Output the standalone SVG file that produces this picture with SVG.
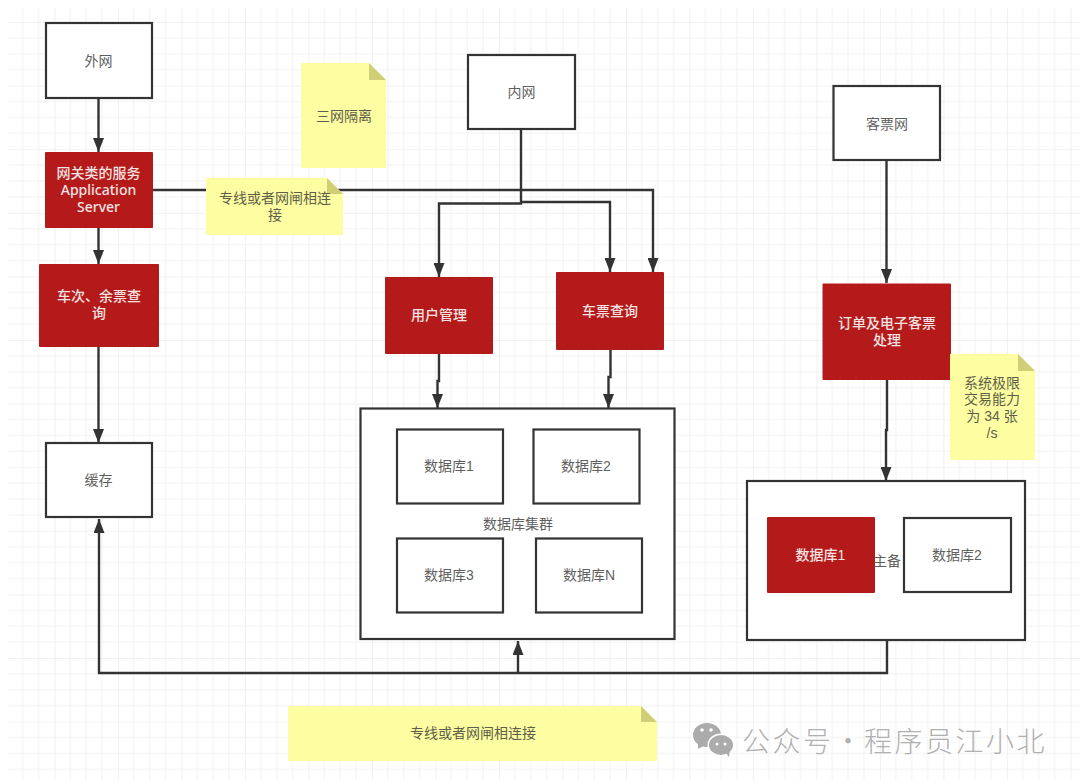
<svg xmlns="http://www.w3.org/2000/svg" width="1080" height="784" viewBox="0 0 1080 784">
<style>
text{font-family:"Liberation Sans","Noto Sans CJK SC",sans-serif;font-size:14px;text-anchor:middle;dominant-baseline:central;fill:#5f5f5f}
.box{fill:#fff;stroke:#333;stroke-width:2.2}
.red{fill:#b51a1a;stroke:none}
.red-t{fill:#f3e3e3;font-weight:500}
.latin{font-family:"Noto Sans","Liberation Sans",sans-serif;font-size:14px}
.note{fill:#fdfda2}
.fold{fill:#cfcf78}
.note-t{fill:#5f5f48}
.wire{fill:none;stroke:#333;stroke-width:2.4;marker-end:url(#arrow)}
.wm{fill:#b0b0b0;font-size:28px;font-family:"Noto Sans CJK SC",sans-serif;font-weight:300;text-anchor:start;letter-spacing:2.5px}
</style>
<defs>
<marker id="arrow" markerUnits="userSpaceOnUse" markerWidth="14" markerHeight="11" refX="14" refY="5.500" viewBox="0 0 14 11" orient="auto">
<path d="M0 0L14 5.500L0 11Z" fill="#333"/>
</marker>
<pattern id="grid" patternUnits="userSpaceOnUse" x="54.4" y="22" width="63.5" height="63.6">
<path d="M15.9 0V63.6M31.75 0V63.6M47.6 0V63.6M0 15.9H63.5M0 31.8H63.5M0 47.7H63.5" fill="none" stroke="#f1f1f1" stroke-width="1"/>
<path d="M0 0V63.6M0 0H63.5" fill="none" stroke="#e6e6e6" stroke-width="1.2"/>
</pattern>
</defs>
<rect width="1080" height="784" fill="#fff"/>
<rect x="8" y="8" width="1072" height="772" fill="url(#grid)"/>

<g id="connectors">
<path class="wire" d="M98.5 98V152"/>
<path class="wire" d="M98.5 228V264"/>
<path class="wire" d="M98.5 347V443"/>
<path class="wire" d="M153 190H653V272"/>
<path class="wire" d="M521 129V203.500H439V277"/>
<path class="wire" d="M521 202H610V272"/>
<path class="wire" d="M439 354V381H437.500V408"/>
<path class="wire" d="M610.500 350V377H608.500V408"/>
<path class="wire" d="M886.500 160V283"/>
<path class="wire" d="M887 380V430H886V481"/>
<path class="wire" d="M887 640V673H99V519"/>
<path class="wire" d="M518 673V641"/>
</g>

<g id="n-extranet"><rect class="box" x="46" y="23" width="106" height="75"/><text x="98.500" y="61">外网</text></g>
<g id="n-gateway"><rect class="red" x="45" y="152" width="108" height="76" rx="1"/><text class="red-t" x="98.500" y="173">网关类的服务</text><text class="red-t latin" x="98.500" y="189.500">Application</text><text class="red-t latin" x="98.500" y="206.500">Server</text></g>
<g id="n-query"><rect class="red" x="39" y="264" width="120" height="83" rx="1"/><text class="red-t" x="99" y="296">车次、余票查</text><text class="red-t" x="99" y="313">询</text></g>
<g id="n-cache"><rect class="box" x="46" y="443" width="106" height="74"/><text x="98.500" y="480">缓存</text></g>
<g id="n-note-isolation"><path class="note" d="M301 63H369L386 80V168H301Z"/><path class="fold" d="M369 63L386 80H369Z"/><text class="note-t" x="344" y="116">三网隔离</text></g>
<g id="n-note-link1"><path class="note" d="M206 178H327L343 194V235H206Z"/><path class="fold" d="M327 178L343 194H327Z"/><text class="note-t" x="275" y="198">专线或者网闸相连</text><text class="note-t" x="275" y="215">接</text></g>
<g id="n-intranet"><rect class="box" x="468" y="55" width="107" height="74"/><text x="521.500" y="92">内网</text></g>
<g id="n-users"><rect class="red" x="385" y="277" width="108" height="77" rx="1"/><text class="red-t" x="439" y="315">用户管理</text></g>
<g id="n-tickets"><rect class="red" x="556" y="272" width="108" height="78" rx="1"/><text class="red-t" x="610" y="311">车票查询</text></g>
<g id="n-db-cluster"><rect class="box" x="360.500" y="408.500" width="314" height="230.500"/><text x="518" y="524">数据库集群</text></g>
<g id="n-db1"><rect class="box" x="397" y="429.500" width="106" height="74"/><text x="449" y="466">数据库1</text></g>
<g id="n-db2"><rect class="box" x="533.500" y="429.500" width="106" height="74"/><text x="586" y="466">数据库2</text></g>
<g id="n-db3"><rect class="box" x="397" y="538.500" width="106" height="74"/><text x="449" y="575">数据库3</text></g>
<g id="n-dbn"><rect class="box" x="536" y="538.500" width="106" height="74"/><text x="589" y="575">数据库N</text></g>
<g id="n-ticketnet"><rect class="box" x="833.500" y="86" width="106.500" height="74"/><text x="887" y="124">客票网</text></g>
<g id="n-orders"><rect class="red" x="822.500" y="283.500" width="128.500" height="96.500" rx="1"/><text class="red-t" x="887" y="323">订单及电子客票</text><text class="red-t" x="887" y="340">处理</text></g>
<g id="n-note-limit"><path class="note" d="M950 354H1018L1035 371V460H950Z"/><path class="fold" d="M1018 354L1035 371H1018Z"/><text class="note-t" x="992" y="383">系统极限</text><text class="note-t" x="992" y="399">交易能力</text><text class="note-t" x="992" y="416">为 34 张</text><text class="note-t" x="992" y="433">/s</text></g>
<g id="n-ha-cluster"><rect class="box" x="747" y="481" width="278" height="159"/><text x="887" y="561">主备</text></g>
<g id="n-ha-db1"><rect class="red" x="767" y="517" width="108" height="76" rx="1"/><text class="red-t" x="820.500" y="555">数据库1</text></g>
<g id="n-ha-db2"><rect class="box" x="904" y="518" width="107" height="74"/><text x="957" y="555">数据库2</text></g>
<g id="n-note-link2"><path class="note" d="M288 706H641L657 722V761H288Z"/><path class="fold" d="M641 706L657 722H641Z"/><text class="note-t" x="473" y="733">专线或者网闸相连接</text></g>

<g id="watermark">
<ellipse cx="707" cy="735" rx="14" ry="12" fill="#ababab"/>
<path d="M698 743L698 749L705 745Z" fill="#ababab"/>
<ellipse cx="721" cy="745" rx="13.500" ry="11.500" fill="#fff"/>
<ellipse cx="721" cy="745" rx="12" ry="10" fill="#ababab"/>
<path d="M726 753L729 757L730 750Z" fill="#ababab"/>
<circle cx="702" cy="730" r="1.800" fill="#fff"/><circle cx="711" cy="730" r="1.800" fill="#fff"/>
<circle cx="717" cy="744" r="1.500" fill="#fff"/><circle cx="725" cy="744" r="1.500" fill="#fff"/>
<text class="wm" y="740"><tspan x="742">公众号</tspan><tspan x="834">·</tspan><tspan x="864">程序员江小北</tspan></text>
</g>
</svg>
